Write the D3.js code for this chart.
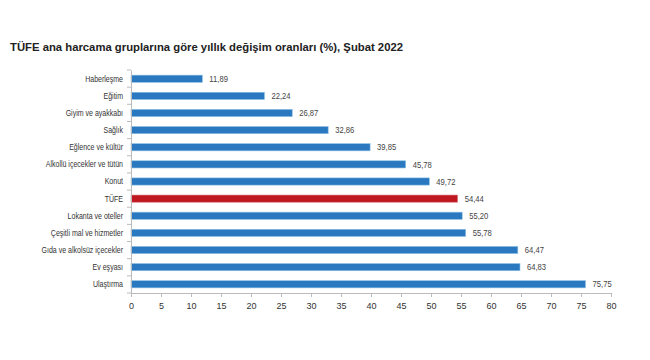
<!DOCTYPE html>
<html>
<head>
<meta charset="utf-8">
<script src="https://cdn.jsdelivr.net/npm/d3@7"></script>
<style>
  body { margin: 0; background: #fff; }
  svg { font-family: "Liberation Sans", Arial, sans-serif; }
</style>
</head>
<body>
<div id="chart"></div>
<script>
// categories, top to bottom
const categories = [
  "Haberleşme", "Eğitim", "Giyim ve ayakkabı", "Sağlık", "Eğlence ve kültür",
  "Alkollü içecekler ve tütün", "Konut", "TÜFE", "Lokanta ve oteller",
  "Çeşitli mal ve hizmetler", "Gıda ve alkolsüz içecekler", "Ev eşyası", "Ulaştırma"
];
const values = [11.89, 22.24, 26.87, 32.86, 39.85, 45.78, 49.72, 54.44, 55.20, 55.78, 64.47, 64.83, 75.75];
const xTicks = [0, 5, 10, 15, 20, 25, 30, 35, 40, 45, 50, 55, 60, 65, 70, 75, 80];

const width = 650, height = 360;
const margin = { top: 70, left: 131, right: 39, bottom: 67 };

const svg = d3.select("#chart").append("svg")
  .attr("width", width)
  .attr("height", height);

svg.append("text")
  .attr("x", 10)
  .attr("y", 51)
  .attr("font-size", 11.3)
  .attr("font-weight", "bold")
  .attr("fill", "#222")
  .text("TÜFE ana harcama gruplarına göre yıllık değişim oranları (%), Şubat 2022");

const x = d3.scaleLinear().domain([0, 80]).range([margin.left, width - margin.right]);
const y = d3.scaleBand().domain(categories)
  .range([margin.top, height - margin.bottom])
  .paddingInner(0.58).paddingOuter(0.3);

const fmt = v => v.toFixed(2).replace(".", ",");

// squeeze text horizontally, the original uses a narrow face
const squeeze = (sel, k) => sel.each(function () {
  const w = this.getComputedTextLength();
  d3.select(this).attr("textLength", w * k).attr("lengthAdjust", "spacingAndGlyphs");
});

// bars
svg.append("g").selectAll("rect")
  .data(categories)
  .enter().append("rect")
  .attr("x", x(0))
  .attr("y", d => y(d))
  .attr("width", (d, i) => x(values[i]) - x(0))
  .attr("height", y.bandwidth())
  .attr("fill", d => d === "TÜFE" ? "#c01820" : "#2a78c0")
  .attr("stroke", d => d === "TÜFE" ? "#e08088" : "#8cc0e4")
  .attr("stroke-width", 0.6);

// value labels
svg.append("g").selectAll("text")
  .data(categories)
  .enter().append("text")
  .attr("x", (d, i) => x(values[i]) + 7)
  .attr("y", d => y(d) + y.bandwidth() / 2)
  .attr("dy", "0.35em")
  .attr("font-size", 9)
  .attr("fill", "#444")
  .text((d, i) => fmt(values[i]))
  .call(squeeze, 0.85);

// y axis
const yAxis = svg.append("g")
  .attr("transform", `translate(${margin.left},0)`)
  .call(d3.axisLeft(y).tickSize(0).tickPadding(8));
yAxis.select(".domain").attr("stroke", "#bbb");
yAxis.selectAll("text").attr("font-size", 9).attr("fill", "#333")
  .attr("font-family", null)
  .call(squeeze, 0.78);

// small ticks between categories
svg.append("g").selectAll("line")
  .data(d3.range(categories.length + 1))
  .enter().append("line")
  .attr("x1", margin.left - 4).attr("x2", margin.left)
  .attr("y1", i => margin.top + i * (height - margin.bottom - margin.top) / categories.length)
  .attr("y2", i => margin.top + i * (height - margin.bottom - margin.top) / categories.length)
  .attr("stroke", "#bbb");

// x axis
const xAxis = svg.append("g")
  .attr("transform", `translate(0,${height - margin.bottom})`)
  .call(d3.axisBottom(x).tickValues(xTicks).tickSize(4).tickPadding(6));
xAxis.select(".domain").attr("stroke", "#bbb");
xAxis.selectAll(".tick line").attr("stroke", "#bbb");
xAxis.selectAll("text").attr("font-size", 9).attr("fill", "#333")
  .attr("font-family", null);
</script>
</body>
</html>
